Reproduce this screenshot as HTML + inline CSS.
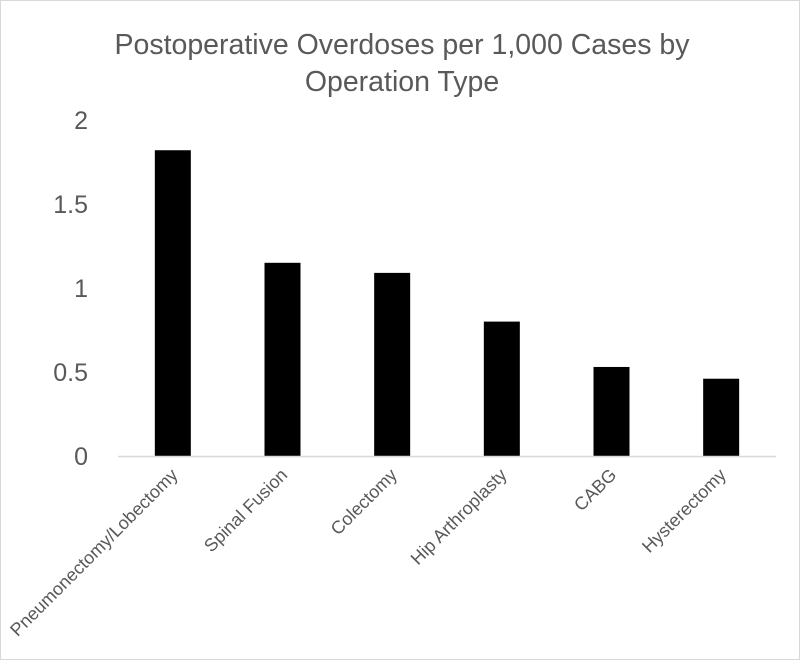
<!DOCTYPE html>
<html><head><meta charset="utf-8"><style>
html,body{margin:0;padding:0;background:#fff}
svg{display:block}
text{font-family:"Liberation Sans",sans-serif;fill:#595959}
</style></head><body>
<svg id="chart" width="800" height="660" viewBox="0 0 800 660">
<rect x="0.5" y="0.5" width="799" height="659" fill="#fff" stroke="#d9d9d9"/>
<text x="402" y="54" font-size="28.5" text-anchor="middle">Postoperative Overdoses per 1,000 Cases by</text>
<text x="402" y="91" font-size="28.5" text-anchor="middle">Operation Type</text>
<g id="plot"></g>
</svg>
<script>
const categories=["Pneumonectomy/Lobectomy","Spinal Fusion","Colectomy","Hip Arthroplasty","CABG","Hysterectomy"];
const values=[1.82,1.15,1.09,0.80,0.53,0.46];
const ticks=[0,0.5,1,1.5,2];
const tickLabels=["0","0.5","1","1.5","2"];
const NS="http://www.w3.org/2000/svg";
const g=document.getElementById('plot');
const x0=118,x1=776,yBase=456,yTop=120,yMax=2;
const bw=(x1-x0)/categories.length;
const y=v=>yBase-(v/yMax)*(yBase-yTop);
const xc=i=>x0+bw*(i+0.5);
function mk(t,a){const e=document.createElementNS(NS,t);for(const k in a)e.setAttribute(k,a[k]);g.appendChild(e);return e;}
ticks.forEach((t,i)=>{
 const e=mk('text',{x:88,y:y(t)+9,'font-size':25,'text-anchor':'end'});
 
 
 e.textContent=tickLabels[i];
});
values.forEach((v,i)=>{
 const r=mk('rect',{x:xc(i)-18,y:y(v),width:36,height:yBase-y(v),fill:'#000'});
 
 
});
const ax=mk('line',{x1:x0,x2:x1,y1:yBase+0.5,y2:yBase+0.5,stroke:'#d9d9d9','stroke-width':1.5});


categories.forEach((c,i)=>{
 const ax2=xc(i)+6,ay=476;
 const e=mk('text',{x:ax2,y:ay,'font-size':18,'text-anchor':'end',transform:`rotate(-45 ${ax2} ${ay})`});
 
 
 e.textContent=c;
});
</script>
</body></html>
